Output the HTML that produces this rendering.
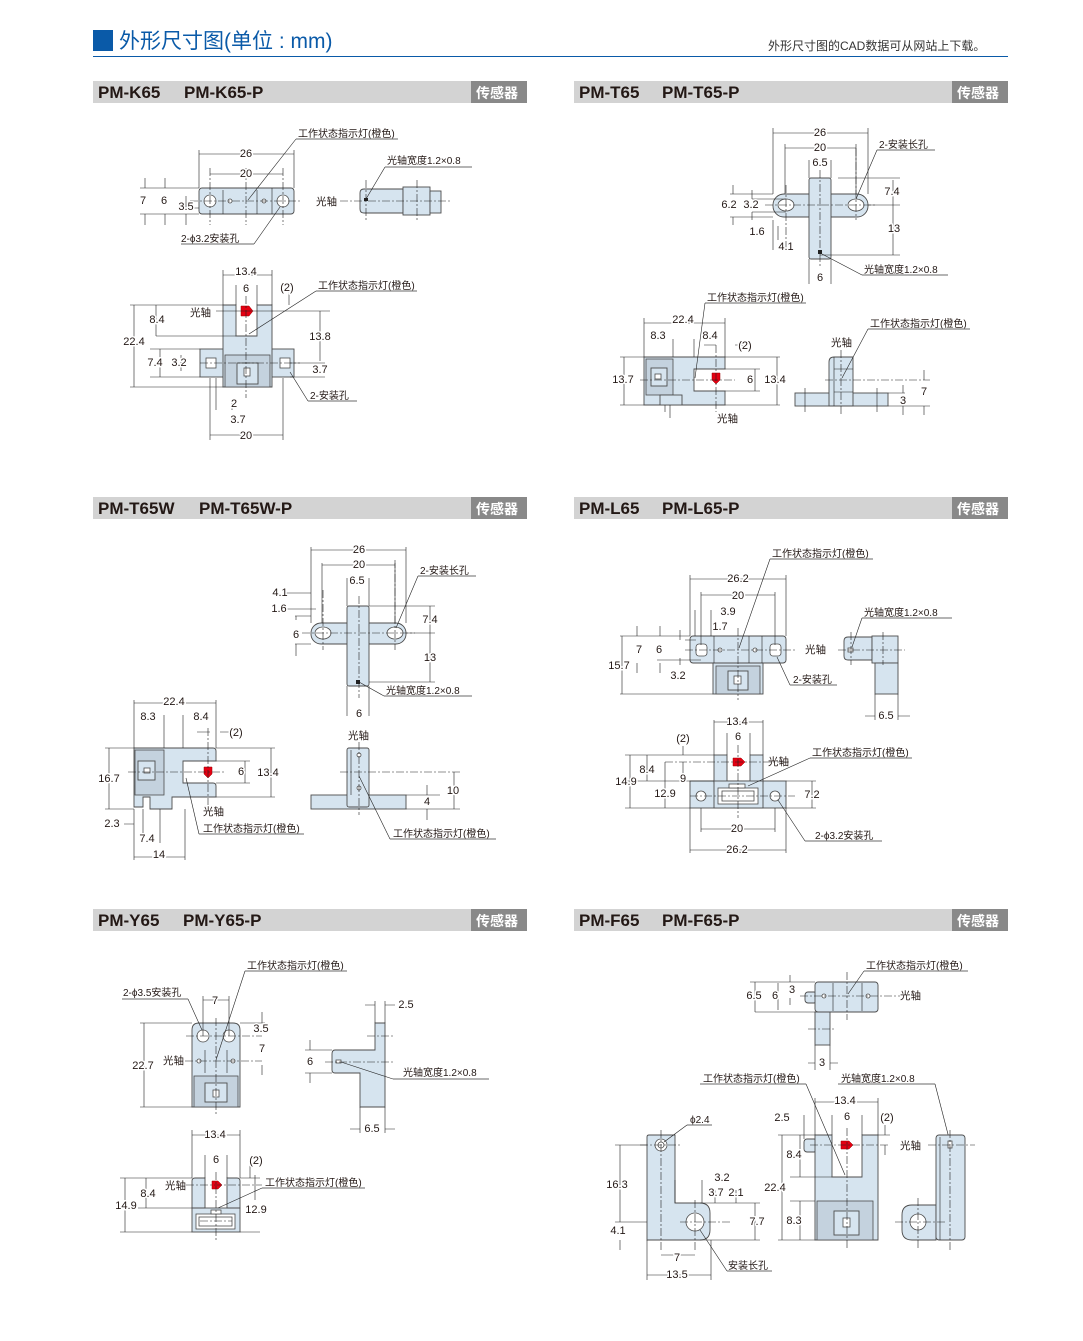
<!DOCTYPE html>
<html><head><meta charset="utf-8"><style>
html,body{margin:0;padding:0;background:#fff}
svg{display:block}
text{font-family:"Liberation Sans","Noto Sans CJK SC",sans-serif;fill:#231815}
.n{font-size:11px;text-anchor:middle;dominant-baseline:central;paint-order:stroke;stroke:#fff;stroke-width:3px;stroke-linejoin:round}
.t{font-size:10px}
.b{fill:#d6e4ef;stroke:#4d4d4d;stroke-width:0.9}
.d{fill:#c4d2de;stroke:#4d4d4d;stroke-width:0.8}
.w{fill:#fff;stroke:#4d4d4d;stroke-width:0.8}
.l{stroke:#222;stroke-width:0.6;fill:none}
.u{stroke:#888;stroke-width:1.2;fill:none}
.c{stroke:#222;stroke-width:0.6;fill:none;stroke-dasharray:8 2 2 2}
.led{fill:#e50012;stroke:#900;stroke-width:0.5}
.h{font-size:17px;font-weight:bold;white-space:pre}
.g{fill:#fff;font-size:14px;font-weight:bold}
</style></head><body>
<svg width="1083" height="1341" viewBox="0 0 1083 1341" xmlns="http://www.w3.org/2000/svg">
<rect x="93" y="30" width="20" height="21" fill="#0a5aa8"/>
<text x="119" y="48" style="font-size:21px;fill:#0a5aa8">外形尺寸图(单位 : mm)</text>
<line x1="93" y1="56.5" x2="1008" y2="56.5" stroke="#0a5aa8" stroke-width="1"/>
<text x="768" y="50" style="font-size:12px;fill:#333">外形尺寸图的CAD数据可从网站上下载。</text>

<g>
<rect x="93" y="81" width="434" height="22" fill="#d3d3d3"/><rect x="471" y="81" width="56" height="22" fill="#898989"/>
<text x="98" y="98" class="h">PM-K65</text><text x="184" y="98" class="h">PM-K65-P</text><text x="476" y="98" class="g">传感器</text>
<rect x="574" y="81" width="434" height="22" fill="#d3d3d3"/><rect x="952" y="81" width="56" height="22" fill="#898989"/>
<text x="579" y="98" class="h">PM-T65</text><text x="662" y="98" class="h">PM-T65-P</text><text x="957" y="98" class="g">传感器</text>
<rect x="93" y="497" width="434" height="22" fill="#d3d3d3"/><rect x="471" y="497" width="56" height="22" fill="#898989"/>
<text x="98" y="514" class="h">PM-T65W</text><text x="199" y="514" class="h">PM-T65W-P</text><text x="476" y="514" class="g">传感器</text>
<rect x="574" y="497" width="434" height="22" fill="#d3d3d3"/><rect x="952" y="497" width="56" height="22" fill="#898989"/>
<text x="579" y="514" class="h">PM-L65</text><text x="662" y="514" class="h">PM-L65-P</text><text x="957" y="514" class="g">传感器</text>
<rect x="93" y="909" width="434" height="22" fill="#d3d3d3"/><rect x="471" y="909" width="56" height="22" fill="#898989"/>
<text x="98" y="926" class="h">PM-Y65</text><text x="183" y="926" class="h">PM-Y65-P</text><text x="476" y="926" class="g">传感器</text>
<rect x="574" y="909" width="434" height="22" fill="#d3d3d3"/><rect x="952" y="909" width="56" height="22" fill="#898989"/>
<text x="579" y="926" class="h">PM-F65</text><text x="662" y="926" class="h">PM-F65-P</text><text x="957" y="926" class="g">传感器</text>
</g>

<!-- K65 -->
<rect class="b" x="199" y="188" width="95" height="26" rx="3"/>
<line class="l" x1="223" y1="190" x2="223" y2="214"/><line class="l" x1="257" y1="190" x2="257" y2="214"/><line class="l" x1="272" y1="188" x2="272" y2="214"/>
<circle class="w" cx="210" cy="201" r="6"/><circle class="w" cx="283" cy="201" r="6"/>
<circle class="w" cx="230" cy="201" r="2"/><circle class="w" cx="264" cy="201" r="2"/>
<line class="c" x1="190" y1="201" x2="302" y2="201"/>
<line class="c" x1="246" y1="168" x2="246" y2="225"/><line class="c" x1="210" y1="168" x2="210" y2="225"/><line class="c" x1="283" y1="168" x2="283" y2="225"/>
<path class="l" d="M199 150V188M294 150V188M199 154H294M210 174H283M140 188H199M140 214H199M186 208H199M145 178V188M145 214V225M165 178V188M165 214V225M186 196V208M186 214V225"/>
<text class="n" x="246" y="154">26</text><text class="n" x="246" y="174">20</text>
<text class="n" x="143" y="201">7</text><text class="n" x="164" y="201">6</text><text class="n" x="186" y="207">3.5</text>
<text class="t" x="298" y="137">工作状态指示灯(橙色)</text><path class="u" d="M296 139H398"/><path class="l" d="M296 139L248 200"/>
<text class="t" x="181" y="242">2-ϕ3.2安装孔</text><path class="u" d="M181 244H254"/><path class="l" d="M254 244L280 207"/>
<path class="b" d="M364 189H403V213H364Q360 213 360 209V193Q360 189 364 189Z"/>
<rect class="b" x="403" y="187" width="27" height="28"/><rect class="b" x="430" y="191" width="11" height="22"/>
<rect x="364" y="198" width="4" height="3" fill="#222"/>
<line class="c" x1="340" y1="201" x2="452" y2="201"/><line class="c" x1="366" y1="180" x2="366" y2="222"/><line class="c" x1="417" y1="180" x2="417" y2="222"/>
<text class="t" x="316" y="205" style="font-size:10.5px">光轴</text>
<text class="t" x="387" y="164">光轴宽度1.2×0.8</text><path class="u" d="M385 167H472"/><path class="l" d="M385 167L366 199"/>
<rect class="b" x="200" y="349" width="94" height="28"/>
<path class="b" d="M223 305H236V336H257V305H272V387H223Z"/>
<rect class="d" x="225" y="355" width="45" height="32"/><rect class="b" x="237" y="363" width="21" height="21"/><rect class="w" x="244" y="368" width="6" height="8"/>
<rect class="w" x="206" y="358" width="10" height="10"/><rect class="w" x="280" y="358" width="10" height="10"/>
<path class="led" d="M241 306H249L253 311L249 316H241Z"/>
<line class="c" x1="246" y1="296" x2="246" y2="398"/><line class="c" x1="200" y1="363" x2="300" y2="363"/>
<path class="l" d="M216 311H330M130 305H223M130 387H223M134 305V387M156 305V336M156 336H236M150 349H200M150 377H200M160 349V377M181 355V371M320 311V361M290 363H325M290 377H325M223 270V305M272 270V305M223 275H272M236 285V305M257 285V305M210 378V440M283 378V440M210 435H283M216 378V410M232 400V410M289 290V305"/>
<text class="n" x="246" y="272">13.4</text><text class="n" x="246" y="289">6</text><text class="n" x="287" y="288">(2)</text>
<text class="t" x="318" y="289">工作状态指示灯(橙色)</text><path class="u" d="M316 291H417"/><path class="l" d="M316 291L249 334"/>
<text class="t" x="190" y="316" style="font-size:10.5px">光轴</text>
<text class="n" x="157" y="320">8.4</text><text class="n" x="134" y="342">22.4</text><text class="n" x="155" y="363">7.4</text><text class="n" x="179" y="363">3.2</text>
<text class="n" x="320" y="337">13.8</text><text class="n" x="320" y="370">3.7</text>
<text class="t" x="310" y="399">2-安装孔</text><path class="u" d="M308 401H357"/><path class="l" d="M308 401L290 372"/>
<text class="n" x="234" y="404">2</text><text class="n" x="238" y="420">3.7</text><text class="n" x="246" y="436">20</text>

<!-- T65 -->
<rect class="b" x="773" y="194" width="95" height="23" rx="11"/>
<rect class="b" x="809" y="178" width="22" height="81" rx="2"/>
<ellipse class="w" cx="786" cy="205" rx="8" ry="6"/><ellipse class="w" cx="856" cy="205" rx="8" ry="6"/>
<rect x="818" y="250" width="4" height="4" fill="#222"/>
<line class="c" x1="765" y1="205" x2="876" y2="205"/><line class="c" x1="820" y1="170" x2="820" y2="268"/><line class="c" x1="786" y1="185" x2="786" y2="250"/><line class="c" x1="856" y1="148" x2="856" y2="220"/>
<path class="l" d="M773 128V194M868 128V194M773 133H868M785 144V194M856 144V194M785 148H856M809 160V178M831 160V178M730 194H773M730 217H773M752 199H786M752 212H786M733 185V194M733 217V225M752 190V199M752 212V220M838 178H900M868 205H900M820 255H900M893 180V255M809 259V284M831 259V284M773 220V250M778 226V240"/>
<text class="n" x="820" y="133">26</text><text class="n" x="820" y="148">20</text><text class="n" x="820" y="163">6.5</text>
<text class="n" x="892" y="192">7.4</text><text class="n" x="894" y="229">13</text>
<text class="n" x="729" y="205">6.2</text><text class="n" x="751" y="205">3.2</text><text class="n" x="757" y="232">1.6</text><text class="n" x="786" y="247">4.1</text><text class="n" x="820" y="278">6</text>
<text class="t" x="879" y="148">2-安装长孔</text><path class="u" d="M877 150H935"/><path class="l" d="M877 150L856 199"/>
<text class="t" x="864" y="273">光轴宽度1.2×0.8</text><path class="u" d="M862 275H948"/><path class="l" d="M862 275L822 254"/>
<path class="b" d="M644 357H725V369H694V391H725V405H644Z"/>
<rect class="d" x="646" y="359" width="27" height="36"/><rect class="b" x="651" y="368" width="16" height="18"/><rect class="w" x="655" y="374" width="6" height="5"/>
<rect class="b" x="660" y="395" width="22" height="10"/>
<path class="led" d="M712 373H720V380L716 384L712 380Z"/>
<line class="c" x1="640" y1="380" x2="735" y2="380"/><line class="c" x1="716" y1="345" x2="716" y2="412"/>
<path class="l" d="M620 357H644M620 405H644M624 357V405M644 318V357M725 318V357M644 323H725M673 339V357M694 339V357M725 369H760M725 391H760M755 369V391M725 357H780M725 405H780M777 357V405M735 345H745M704 345H716M665 405V412M670 405V418"/>
<text class="n" x="683" y="320">22.4</text><text class="n" x="658" y="336">8.3</text><text class="n" x="710" y="336">8.4</text><text class="n" x="745" y="346">(2)</text>
<text class="n" x="623" y="380">13.7</text><text class="n" x="750" y="380">6</text><text class="n" x="775" y="380">13.4</text>
<text class="t" x="717" y="422" style="font-size:10.5px">光轴</text>
<text class="t" x="707" y="301">工作状态指示灯(橙色)</text><path class="u" d="M705 303H806"/><path class="l" d="M705 303L695 378"/>
<rect class="b" x="795" y="393" width="93" height="13"/>
<path class="b" d="M834 357H853V406H829V362Q829 357 834 357Z"/>
<line class="l" x1="834" y1="357" x2="834" y2="406"/><line class="l" x1="834" y1="369" x2="853" y2="369"/><line class="l" x1="834" y1="392" x2="853" y2="392"/>
<line class="c" x1="841" y1="350" x2="841" y2="415"/><line class="c" x1="825" y1="380" x2="930" y2="380"/>
<path class="l" d="M888 393H905M888 406H930M903 385V393M903 406V415M924 370V380M924 406V415M805 388V412M877 388V412"/>
<text class="n" x="924" y="392">7</text><text class="n" x="903" y="401">3</text>
<text class="t" x="831" y="346" style="font-size:10.5px">光轴</text>
<text class="t" x="870" y="327">工作状态指示灯(橙色)</text><path class="u" d="M868 329H970"/><path class="l" d="M868 329L842 378"/>

<!-- T65W -->
<rect class="b" x="311" y="623" width="95" height="21" rx="10"/>
<rect class="b" x="347" y="606" width="22" height="80" rx="2"/>
<ellipse class="w" cx="323" cy="633" rx="8" ry="6"/><ellipse class="w" cx="395" cy="633" rx="8" ry="6"/>
<rect x="356" y="680" width="4" height="4" fill="#222"/>
<line class="c" x1="302" y1="633" x2="415" y2="633"/><line class="c" x1="359" y1="596" x2="359" y2="698"/><line class="c" x1="323" y1="590" x2="323" y2="650"/><line class="c" x1="395" y1="560" x2="395" y2="650"/>
<path class="l" d="M311 547V623M406 547V623M311 550H406M322 563V623M395 563V623M322 565H395M347 578V606M369 578V606M286 593H311M286 609H316M295 616H311M295 644H311M296 620V616M296 644V656M369 606H435M406 633H435M369 682H435M430 606V682M347 686V716M369 686V716"/>
<text class="n" x="359" y="550">26</text><text class="n" x="359" y="565">20</text><text class="n" x="357" y="581">6.5</text>
<text class="n" x="280" y="593">4.1</text><text class="n" x="279" y="609">1.6</text><text class="n" x="296" y="635">6</text>
<text class="n" x="430" y="620">7.4</text><text class="n" x="430" y="658">13</text><text class="n" x="359" y="714">6</text>
<text class="t" x="420" y="574">2-安装长孔</text><path class="u" d="M418 576H476"/><path class="l" d="M418 576L396 628"/>
<text class="t" x="386" y="694">光轴宽度1.2×0.8</text><path class="u" d="M384 696H472"/><path class="l" d="M384 696L359 682"/>
<path class="b" d="M134 748H213Q216 748 216 751V761H183V783H213Q216 783 216 786V797H172V809H150V797H143V807H134Z"/>
<rect class="d" x="135" y="750" width="29" height="45"/><rect class="b" x="138" y="761" width="17" height="19"/><rect class="w" x="144" y="768" width="6" height="5"/>
<path class="led" d="M204 767H212V774L208 778L204 774Z"/>
<line class="c" x1="128" y1="772" x2="225" y2="772"/><line class="c" x1="208" y1="728" x2="208" y2="805"/>
<path class="l" d="M105 748H134M105 809H134M109 748V809M134 700V748M216 700V748M134 703H216M164 715V748M183 715V748M216 761H250M216 783H250M245 761V783M216 748H275M216 797H275M271 748V797M124 824H134M143 809V843M160 809V843M134 809V860M185 809V860M134 857H185M197 732H210M220 732H230"/>
<text class="n" x="174" y="702">22.4</text><text class="n" x="148" y="717">8.3</text><text class="n" x="201" y="717">8.4</text><text class="n" x="236" y="733">(2)</text>
<text class="n" x="109" y="779">16.7</text><text class="n" x="241" y="772">6</text><text class="n" x="268" y="773">13.4</text>
<text class="t" x="203" y="815" style="font-size:10.5px">光轴</text>
<text class="t" x="203" y="832">工作状态指示灯(橙色)</text><path class="u" d="M199 834H304"/><path class="l" d="M199 834L186 778"/>
<text class="n" x="112" y="824">2.3</text><text class="n" x="147" y="839">7.4</text><text class="n" x="159" y="855">14</text>
<rect class="b" x="311" y="795" width="95" height="14"/>
<rect class="b" x="347" y="748" width="22" height="59" rx="2"/>
<line class="l" x1="351" y1="750" x2="351" y2="795"/>
<circle class="w" cx="359" cy="755" r="2"/><circle class="w" cx="359" cy="788" r="2"/>
<line class="c" x1="359" y1="742" x2="359" y2="815"/><line class="c" x1="340" y1="772" x2="460" y2="772"/>
<path class="l" d="M406 795H440M406 809H460M427 785V795M427 809V820M454 772V809"/>
<text class="n" x="427" y="802">4</text><text class="n" x="453" y="791">10</text>
<text class="t" x="348" y="739" style="font-size:10.5px">光轴</text>
<text class="t" x="393" y="837">工作状态指示灯(橙色)</text><path class="u" d="M390 839H496"/><path class="l" d="M390 839L359 776"/>

<!-- L65 -->
<rect class="b" x="713" y="663" width="50" height="31"/>
<rect class="d" x="716" y="666" width="44" height="28"/><rect class="b" x="728" y="671" width="20" height="19"/><rect class="w" x="734" y="676" width="7" height="8"/>
<rect class="b" x="690" y="636" width="96" height="27" rx="3"/>
<line class="l" x1="714" y1="636" x2="714" y2="663"/><line class="l" x1="749" y1="636" x2="749" y2="663"/><line class="l" x1="762" y1="636" x2="762" y2="663"/>
<rect class="w" x="696" y="644" width="11" height="12" rx="3"/><rect class="w" x="770" y="644" width="11" height="12" rx="3"/>
<circle class="w" cx="720" cy="650" r="2"/><circle class="w" cx="755" cy="650" r="2"/>
<line class="c" x1="685" y1="650" x2="795" y2="650"/><line class="c" x1="738" y1="628" x2="738" y2="700"/>
<path class="l" d="M690 575V636M786 575V636M690 579H786M701 592V645M775 592V645M701 595H775M695 610V636M711 610V636M620 636H690M620 694H713M622 636V694M637 626V636M637 663V673M660 626V636M660 663V673M680 630V640M680 658V665M657 660H701M685 640H696"/>
<text class="n" x="738" y="579">26.2</text><text class="n" x="738" y="596">20</text><text class="n" x="728" y="612">3.9</text><text class="n" x="720" y="627">1.7</text>
<text class="n" x="639" y="650">7</text><text class="n" x="659" y="650">6</text><text class="n" x="619" y="666">15.7</text><text class="n" x="678" y="676">3.2</text>
<text class="t" x="805" y="653" style="font-size:10.5px">光轴</text>
<text class="t" x="772" y="557">工作状态指示灯(橙色)</text><path class="u" d="M770 559H873"/><path class="l" d="M770 559L739 648"/>
<text class="t" x="793" y="683">2-安装孔</text><path class="u" d="M790 685H837"/><path class="l" d="M790 685L777 657"/>
<path class="b" d="M848 637H872V660H848Q844 660 844 656V641Q844 637 848 637Z"/>
<rect class="b" x="872" y="636" width="26" height="27"/><rect class="b" x="875" y="663" width="23" height="31"/>
<rect class="w" x="848" y="648" width="5" height="4"/>
<line class="c" x1="838" y1="650" x2="905" y2="650"/><line class="c" x1="851" y1="632" x2="851" y2="665"/><line class="c" x1="883" y1="632" x2="883" y2="665"/>
<path class="l" d="M875 694V720M898 694V720M865 716H875M898 716H910"/>
<text class="n" x="886" y="716">6.5</text>
<text class="t" x="864" y="616">光轴宽度1.2×0.8</text><path class="u" d="M862 618H952"/><path class="l" d="M862 618L852 647"/>
<rect class="b" x="690" y="781" width="96" height="27"/>
<rect class="b" x="714" y="755" width="13" height="28"/><rect class="b" x="750" y="755" width="13" height="28"/>
<rect class="b" x="714" y="781" width="49" height="27"/>
<rect class="w" x="718" y="788" width="40" height="16"/><rect class="w" x="722" y="791" width="32" height="10"/>
<rect class="w" x="729" y="784" width="16" height="4"/>
<circle class="w" cx="701" cy="796" r="5"/><circle class="w" cx="775" cy="796" r="5"/>
<path class="led" d="M733 758H741L745 762L741 766H733Z"/>
<line class="c" x1="665" y1="762" x2="790" y2="762"/><line class="c" x1="738" y1="745" x2="738" y2="818"/><line class="c" x1="690" y1="796" x2="795" y2="796"/>
<path class="l" d="M714 720V755M763 720V755M714 722H763M727 733V755M750 733V755M683 746V755M625 755H714M625 781H714M625 808H690M630 755V808M647 755V781M660 781H690M683 762V781M665 762V808M786 781H816M786 808H816M812 781V808M690 808V853M786 808V853M701 808V832M775 808V832M701 829H775M690 850H786"/>
<text class="n" x="737" y="722">13.4</text><text class="n" x="738" y="737">6</text><text class="n" x="683" y="739">(2)</text>
<text class="t" x="768" y="765" style="font-size:10.5px">光轴</text>
<text class="t" x="812" y="756">工作状态指示灯(橙色)</text><path class="u" d="M810 758H912"/><path class="l" d="M810 758L748 786"/>
<text class="n" x="647" y="770">8.4</text><text class="n" x="683" y="779">9</text><text class="n" x="626" y="782">14.9</text><text class="n" x="665" y="794">12.9</text><text class="n" x="812" y="795">7.2</text>
<text class="n" x="737" y="829">20</text><text class="n" x="737" y="850">26.2</text>
<text class="t" x="815" y="839">2-ϕ3.2安装孔</text><path class="u" d="M805 841H882"/><path class="l" d="M805 841L778 800"/>

<!-- Y65 -->
<path class="b" d="M192 1107V1030Q192 1023 199 1023H233Q240 1023 240 1030V1107Z"/>
<circle class="w" cx="203" cy="1036" r="6"/><circle class="w" cx="229" cy="1036" r="6"/>
<line class="l" x1="205" y1="1050" x2="205" y2="1073"/><line class="l" x1="227" y1="1050" x2="227" y2="1073"/>
<circle class="w" cx="199" cy="1061" r="2"/><circle class="w" cx="233" cy="1061" r="2"/>
<rect class="d" x="194" y="1076" width="44" height="31"/><rect class="b" x="205" y="1083" width="22" height="19"/><rect class="w" x="213" y="1090" width="6" height="7"/>
<line class="c" x1="186" y1="1036" x2="262" y2="1036"/><line class="c" x1="185" y1="1061" x2="262" y2="1061"/><line class="c" x1="216" y1="1018" x2="216" y2="1115"/>
<path class="l" d="M140 1023H192M140 1107H192M144 1023V1107M240 1023H265M262 1012V1023M262 1065V1075M203 996V1036M229 996V1036M203 1000H229"/>
<text class="n" x="215" y="1001">7</text><text class="n" x="261" y="1029">3.5</text><text class="n" x="262" y="1049">7</text><text class="n" x="143" y="1066">22.7</text>
<text class="t" x="163" y="1064" style="font-size:10.5px">光轴</text>
<text class="t" x="247" y="969">工作状态指示灯(橙色)</text><path class="u" d="M245 971H347"/><path class="l" d="M245 971L216 1060"/>
<text class="t" x="123" y="996">2-ϕ3.5安装孔</text><path class="u" d="M122 999H188"/><path class="l" d="M188 999L202 1030"/>
<path class="b" d="M375 1023H385V1107H360V1073H335Q332 1073 332 1070V1054Q332 1050 335 1050H375Z"/>
<rect class="w" x="336" y="1060" width="5" height="3"/>
<line class="c" x1="325" y1="1062" x2="395" y2="1062"/><line class="c" x1="367" y1="1036" x2="393" y2="1036"/>
<path class="l" d="M375 1001V1023M385 1001V1023M365 1005H375M385 1005H395M305 1050H332M305 1073H332M310 1040V1050M310 1073V1083M360 1107V1133M385 1107V1133M350 1129H360M385 1129H395"/>
<text class="n" x="406" y="1005">2.5</text><text class="n" x="310" y="1062">6</text><text class="n" x="372" y="1129">6.5</text>
<text class="t" x="403" y="1076">光轴宽度1.2×0.8</text><path class="u" d="M393 1079H489"/><path class="l" d="M393 1079L341 1062"/>
<rect class="b" x="192" y="1208" width="48" height="24"/>
<path class="b" d="M192 1181Q192 1178 195 1178H205V1208H192Z"/><path class="b" d="M227 1178H237Q240 1178 240 1181V1208H227Z"/>
<rect class="w" x="196" y="1214" width="39" height="15"/><rect class="w" x="199" y="1217" width="33" height="9"/><rect class="w" x="211" y="1210" width="10" height="4"/>
<path class="led" d="M212 1181H218L222 1185L218 1189H212Z"/>
<line class="c" x1="186" y1="1185" x2="262" y2="1185"/><line class="c" x1="216" y1="1172" x2="216" y2="1240"/><line class="c" x1="200" y1="1221" x2="232" y2="1221"/>
<path class="l" d="M192 1130V1178M240 1130V1178M192 1135H240M205 1155V1178M227 1155V1178M120 1178H192M120 1232H192M125 1178V1232M146 1178V1208M138 1208H192M240 1178H260M240 1232H260M255 1175V1200M250 1165V1178"/>
<text class="n" x="215" y="1135">13.4</text><text class="n" x="216" y="1160">6</text><text class="n" x="256" y="1161">(2)</text>
<text class="t" x="165" y="1189" style="font-size:10.5px">光轴</text>
<text class="t" x="265" y="1186">工作状态指示灯(橙色)</text><path class="u" d="M262 1188H365"/><path class="l" d="M262 1188L218 1208"/>
<text class="n" x="148" y="1194">8.4</text><text class="n" x="126" y="1206">14.9</text><text class="n" x="256" y="1210">12.9</text>

<!-- F65 -->
<rect class="b" x="805" y="992" width="12" height="11" rx="3"/>
<rect class="b" x="815" y="1012" width="15" height="33"/>
<rect class="b" x="815" y="982" width="63" height="30" rx="3"/>
<line class="l" x1="833" y1="983" x2="833" y2="1011"/><line class="l" x1="862" y1="983" x2="862" y2="1011"/>
<circle class="w" cx="824" cy="996" r="2"/><circle class="w" cx="868" cy="996" r="2"/>
<line class="c" x1="800" y1="996" x2="900" y2="996"/><line class="c" x1="847" y1="972" x2="847" y2="1020"/><line class="c" x1="808" y1="1029" x2="835" y2="1029"/>
<path class="l" d="M750 982H815M755 1012H815M755 982V1012M778 983V1010M790 975V982M790 998V1005M815 1045V1070M830 1045V1070M808 1063H815M830 1063H838"/>
<text class="n" x="754" y="996">6.5</text><text class="n" x="775" y="996">6</text><text class="n" x="792" y="990">3</text><text class="n" x="822" y="1063">3</text>
<text class="t" x="900" y="999" style="font-size:10.5px">光轴</text>
<text class="t" x="866" y="969">工作状态指示灯(橙色)</text><path class="u" d="M864 971H968"/><path class="l" d="M864 971L848 994"/>
<path class="b" d="M649 1135H675V1203H700Q710 1203 710 1213V1230Q710 1240 700 1240H647V1137Q647 1135 649 1135Z"/>
<circle class="w" cx="661" cy="1145" r="6"/><circle class="w" cx="661" cy="1145" r="3"/>
<circle class="w" cx="695" cy="1222" r="9"/>
<line class="c" x1="640" y1="1145" x2="680" y2="1145"/><line class="c" x1="661" y1="1130" x2="661" y2="1250"/><line class="c" x1="680" y1="1222" x2="730" y2="1222"/><line class="c" x1="695" y1="1200" x2="695" y2="1250"/>
<path class="l" d="M615 1145H647M615 1222H647M620 1145V1222M620 1240V1250M675 1180V1203M702 1180V1203M700 1203H760M700 1240H760M715 1190V1203M736 1190V1203M755 1203V1240M647 1240V1280M711 1240V1280M647 1275H711M661 1255H695"/>
<text class="n" x="617" y="1185">16.3</text><text class="n" x="722" y="1178">3.2</text><text class="n" x="716" y="1193">3.7</text><text class="n" x="736" y="1193">2.1</text>
<text class="n" x="757" y="1222">7.7</text><text class="n" x="618" y="1231">4.1</text><text class="n" x="677" y="1258">7</text><text class="n" x="677" y="1275">13.5</text>
<text class="t" x="690" y="1123">ϕ2.4</text><path class="u" d="M687 1125H712"/><path class="l" d="M687 1125L664 1142"/>
<text class="t" x="728" y="1269">安装长孔</text><path class="u" d="M727 1271H772"/><path class="l" d="M727 1271L700 1230"/>
<rect class="b" x="804" y="1139" width="13" height="13" rx="3"/>
<path class="b" d="M815 1135H832V1177H862V1135H878V1240H815Z"/>
<rect class="d" x="817" y="1201" width="56" height="39"/><rect class="b" x="834" y="1211" width="25" height="24"/><rect class="w" x="843" y="1218" width="7" height="9"/>
<path class="led" d="M841 1141H849L853 1145L849 1149H841Z"/>
<line class="c" x1="810" y1="1145" x2="890" y2="1145"/><line class="c" x1="847" y1="1128" x2="847" y2="1250"/>
<path class="l" d="M778 1135H815M778 1240H815M782 1135V1240M800 1135V1177M790 1177H832M790 1201H815M800 1201V1240M815 1098V1135M878 1098V1135M815 1102H878M832 1115V1135M862 1115V1135M804 1115V1139M878 1135H890M885 1125V1135M885 1145V1155"/>
<text class="n" x="845" y="1101">13.4</text><text class="n" x="782" y="1118">2.5</text><text class="n" x="847" y="1117">6</text><text class="n" x="887" y="1118">(2)</text>
<text class="n" x="794" y="1155">8.4</text><text class="n" x="775" y="1188">22.4</text><text class="n" x="794" y="1221">8.3</text>
<text class="t" x="900" y="1149" style="font-size:10.5px">光轴</text>
<text class="t" x="703" y="1082">工作状态指示灯(橙色)</text><path class="u" d="M700 1084H806"/><path class="l" d="M806 1084L845 1175"/>
<text class="t" x="841" y="1082">光轴宽度1.2×0.8</text><path class="u" d="M838 1084H935"/><path class="l" d="M935 1084L950 1142"/>
<path class="b" d="M912 1205H936V1240H912Q902 1240 902 1230V1215Q902 1205 912 1205Z"/>
<rect class="b" x="936" y="1135" width="29" height="105" rx="3"/>
<line class="l" x1="940" y1="1137" x2="940" y2="1240"/>
<circle class="w" cx="918" cy="1222" r="8"/>
<rect class="w" x="948" y="1141" width="4" height="7"/>
<line class="c" x1="928" y1="1145" x2="975" y2="1145"/><line class="c" x1="950" y1="1130" x2="950" y2="1250"/><line class="c" x1="895" y1="1222" x2="945" y2="1222"/><line class="c" x1="918" y1="1198" x2="918" y2="1250"/>
</svg>
</body></html>
